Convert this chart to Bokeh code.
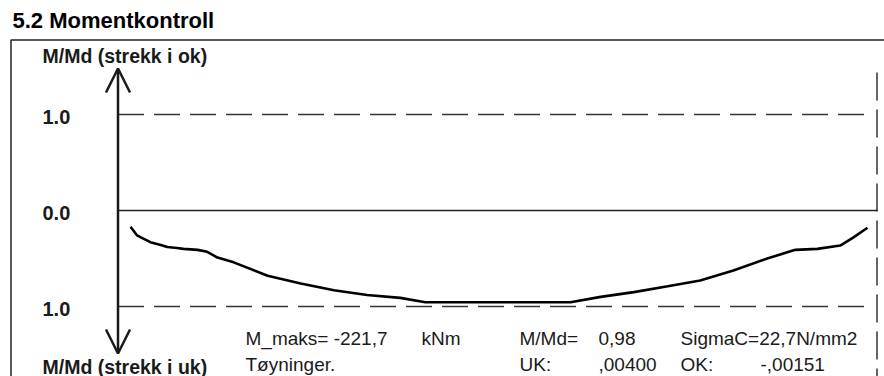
from bokeh.plotting import figure
from bokeh.models import Range1d, Arrow, OpenHead
from bokeh.core.properties import value
from bokeh.embed import file_html
from bokeh.resources import INLINE

# ---- data ----
# position along the beam (% of span) and M/Md (negative = strekk i uk)
pos = [0.0, 0.9, 1.4, 2.7, 4.1, 5.0, 6.3, 7.2, 9.1, 10.4, 11.8, 14.0, 18.6, 23.1,
       27.6, 32.1, 36.6, 40.0, 59.7, 63.8, 68.3, 72.9, 77.3, 81.8, 86.4, 90.2,
       93.2, 96.3, 98.1, 100.0]
m_md = [-0.17, -0.26, -0.28, -0.33, -0.36, -0.38, -0.39, -0.40, -0.41, -0.43,
        -0.49, -0.54, -0.68, -0.76, -0.83, -0.88, -0.91, -0.955, -0.955, -0.90,
        -0.85, -0.79, -0.73, -0.625, -0.50, -0.41, -0.40, -0.365, -0.28, -0.18]

limit_vals = [1.0, -1.0]
tick_vals = [1.0, 0.0, -1.0]
tick_labels = ["1.0", "0.0", "1.0"]

title_text = "5.2 Momentkontroll"
label_top = "M/Md (strekk i ok)"
label_bottom = "M/Md (strekk i uk)"

row1_text = ["M_maks= -221,7", "kNm", "M/Md=", "0,98", "SigmaC=22,7N/mm2"]
row2_text = ["Tøyninger.", "UK:", ",00400", "OK:", "-,00151"]

# ---- layout (canvas pixels) ----
W, H = 884, 376
PX0, SX = 130.0, 7.37      # x pixel of pos=0, px per %
PY0, SY = 210.0, 96.0      # y pixel of M/Md=0, px per unit


def X(px):
    return (px - PX0) / SX


def Y(py):
    return (PY0 - py) / SY


p = figure(width=W, height=H, output_backend="svg", toolbar_location=None,
           x_range=Range1d(X(0), X(W)), y_range=Range1d(Y(H), Y(0)),
           x_axis_location=None, y_axis_location=None, min_border=0)
p.outline_line_color = None
p.grid.visible = False
p.background_fill_color = "white"
p.border_fill_color = "white"

FONT = value("Liberation Sans")
INK = "#1a1a1a"

# frame box (left and top border)
p.line(x=[X(10.5), X(10.5), X(W)], y=[Y(H), Y(39.5), Y(39.5)],
       line_color="#222222", line_width=1.5)
# right vertical dashed border
p.segment(x0=[X(876.5)], y0=[Y(72)], x1=[X(876.5)], y1=[Y(H)],
          line_color="#333333", line_width=1.5, line_dash="28 9")

# axis with arrows
ax_x = X(117.5)
p.add_layout(Arrow(x_start=ax_x, y_start=Y(353), x_end=ax_x, y_end=Y(68),
                   line_width=2.5, line_color=INK,
                   start=OpenHead(size=24, line_width=2.5, line_color=INK),
                   end=OpenHead(size=24, line_width=2.5, line_color=INK)))

# zero line
p.segment(x0=[ax_x], y0=[0.0], x1=[X(877)], y1=[0.0],
          line_color="#222222", line_width=1.6)
# limit lines
p.segment(x0=[ax_x] * len(limit_vals), y0=limit_vals,
          x1=[X(867)] * len(limit_vals), y1=limit_vals,
          line_color="#333333", line_width=1.5, line_dash="26 10")

# curve
p.line(pos, m_md, line_color="black", line_width=2.6)

# tick labels
p.text(x=[X(42)] * len(tick_vals), y=tick_vals, text=tick_labels,
       text_font=FONT, text_font_style="bold", text_font_size="20px",
       text_baseline="middle", text_color=INK, y_offset=2)

# title and axis labels
p.text(x=[X(12)], y=[Y(20)], text=[title_text], text_font=FONT,
       text_font_style="bold", text_font_size="22px",
       text_baseline="middle", text_color="black")
p.text(x=[X(42), X(42)], y=[Y(55), Y(366)], text=[label_top, label_bottom],
       text_font=FONT, text_font_style="bold", text_font_size="19.5px",
       text_baseline="middle", text_color=INK)

# result rows
row1_x = [245, 421, 519, 598, 680]
row2_x = [245, 519, 598, 680, 760]
p.text(x=[X(v) for v in row1_x], y=[Y(338)] * len(row1_x), text=row1_text,
       text_font=FONT, text_font_size="19px", text_baseline="middle",
       text_color=INK)
p.text(x=[X(v) for v in row2_x], y=[Y(364)] * len(row2_x), text=row2_text,
       text_font=FONT, text_font_size="19px", text_baseline="middle",
       text_color=INK)

open("out.html", "w").write(file_html(p, INLINE))
